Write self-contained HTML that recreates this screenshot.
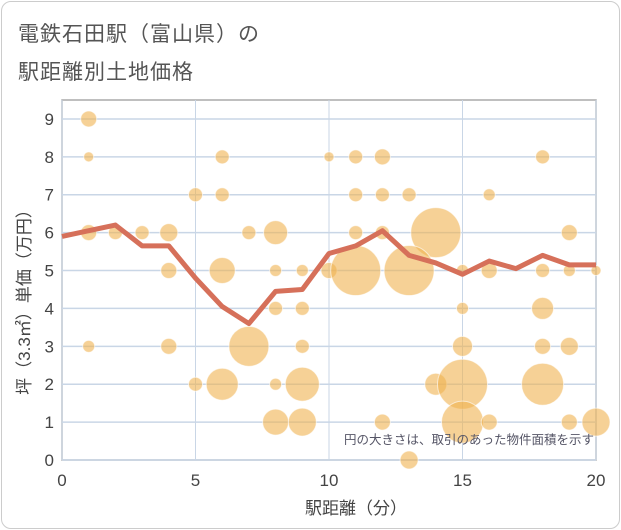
<!DOCTYPE html>
<html><head><meta charset="utf-8"><style>
body{margin:0;background:#fff;font-family:"Liberation Sans","Noto Sans CJK JP",sans-serif}
#frame{position:absolute;left:1px;top:1px;width:617px;height:526px;border:1px solid #ccc;border-radius:10px}
.title{position:absolute;left:18px;font-size:21px;color:#555;letter-spacing:1px}
</style></head><body>
<div id="frame"></div>
<div class="title" style="top:18px">電鉄石田駅（富山県）の</div>
<div class="title" style="top:56px">駅距離別土地価格</div>
<svg id="chart" width="621" height="530" style="position:absolute;left:0;top:0"></svg>
<script>
const xTicks=[0,5,10,15,20];
const yTicks=[0,1,2,3,4,5,6,7,8,9];
const lineX=[0,1,2,3,4,5,6,7,8,9,10,11,12,13,14,15,16,17,18,19,20];
const lineY=[5.9,6.05,6.2,5.65,5.65,4.8,4.05,3.6,4.45,4.5,5.45,5.65,6.05,5.4,5.2,4.9,5.25,5.05,5.4,5.15,5.15];
const bubbleX=[1,1,6,10,5,6,1,2,3,4,7,8,4,6,8,9,10,8,9,1,4,7,9,5,6,8,9,8,9,11,12,18,11,12,13,16,14,11,12,19,11,13,15,16,18,19,20,15,18,15,18,19,14,15,18,12,15,16,19,20,13];
const bubbleY=[9,8,8,8,7,7,6,6,6,6,6,6,5,5,5,5,5,4,4,3,3,3,3,2,2,2,2,1,1,8,8,8,7,7,7,7,6,6,6,6,5,5,5,5,5,5,5,4,4,3,3,3,2,2,2,1,1,1,1,1,0];
const bubbleR=[8,5,7,5,7,7,8,7,7,9,7,12,8,13,6,6,8,7,7,6,8,20,7,7,16,6,17,13,14,7,8,7,7,7,7,6,25,7,7,8,25,25,6,8,7,6,5,6,11,10,8,9,11,25,21,8,21,8,8,14,9];
const L=62,R=596,T=100,B=460;
const xs=v=>L+(v/20)*(R-L), ys=v=>B-(v/9.5)*(B-T);
const svg=document.getElementById('chart');const NS='http://www.w3.org/2000/svg';
function mk(t,a){const e=document.createElementNS(NS,t);for(const k in a)e.setAttribute(k,a[k]);svg.appendChild(e);return e;}
let e;
e=mk('rect',{x:L,y:T,width:R-L,height:B-T,fill:'#fff',stroke:'#aaa','stroke-width':1.5});


yTicks.forEach(v=>{
 e=mk('line',{x1:L,x2:R,y1:ys(v),y2:ys(v),stroke:'#c9d6e6','stroke-width':1.5});
 
 
 e=mk('text',{x:L-8,y:ys(v)+6,'text-anchor':'end','font-size':17,fill:'#444'});e.textContent=v;
 
 
});
xTicks.forEach(v=>{
 e=mk('line',{x1:xs(v),x2:xs(v),y1:T,y2:B,stroke:'#c9d6e6','stroke-width':1});
 
 
 e=mk('text',{x:xs(v),y:B+26,'text-anchor':'middle','font-size':17,fill:'#444'});e.textContent=v;
 
 
});
bubbleX.forEach((x,i)=>{
 e=mk('circle',{cx:xs(x),cy:ys(bubbleY[i]),r:bubbleR[i],fill:'rgba(240,178,80,0.6)',stroke:'rgba(255,255,255,0.6)','stroke-width':1});
 
 
});
e=mk('polyline',{points:lineX.map((x,i)=>xs(x)+','+ys(lineY[i])).join(' '),fill:'none',stroke:'#d6705a','stroke-width':5,'stroke-linejoin':'round'});


e=mk('text',{x:R-2,y:444,'text-anchor':'end','font-size':12.5,fill:'#556'});e.textContent='円の大きさは、取引のあった物件面積を示す';


e=mk('text',{x:356,y:514,'text-anchor':'middle','font-size':17,fill:'#444'});e.textContent='駅距離（分）';


e=mk('text',{x:0,y:0,'text-anchor':'middle','font-size':17,fill:'#444',transform:'translate(30,298) rotate(-90)'});e.textContent='坪（3.3㎡）単価（万円）';


</script>
</body></html>
